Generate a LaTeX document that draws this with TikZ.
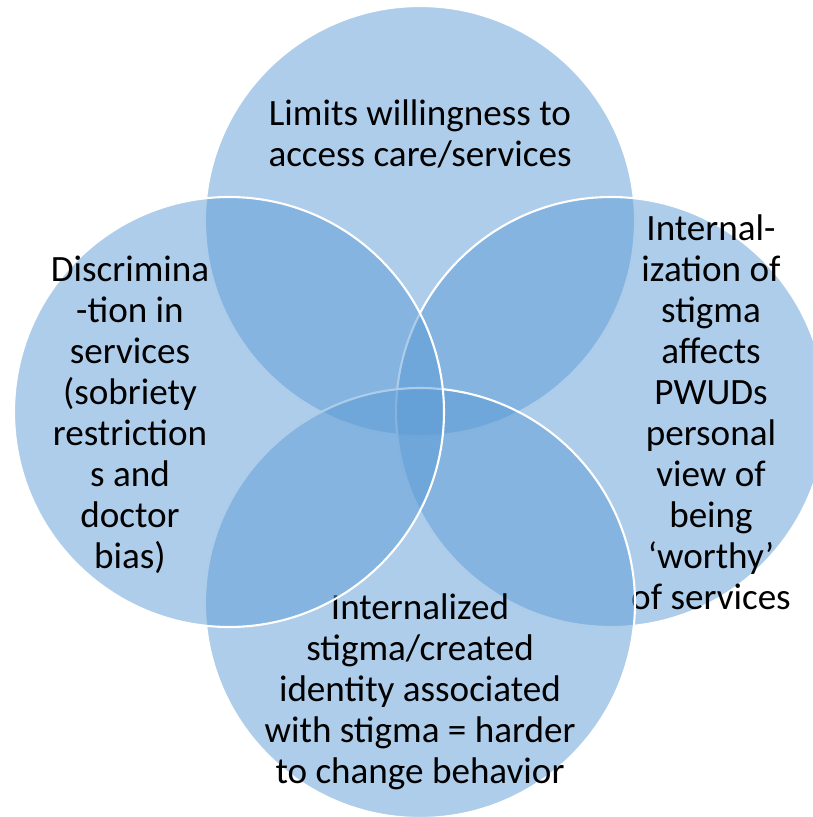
\documentclass[tikz,border=0pt]{standalone}
\usepackage{fontspec}
\setmainfont{Carlito}
\usepackage{tikz}
\usetikzlibrary{positioning}
\definecolor{vennblue}{HTML}{5B9BD5}

\begin{document}
\begin{tikzpicture}[
    font=\fontsize{26.4}{29.2}\selectfont,
    venn/.style={circle, draw=white, line width=1.5pt, fill=vennblue,
        fill opacity=.5, minimum size=10.75cm, inner sep=0pt},
    label/.style={align=center, inner sep=0pt, text=black}
]
\useasboundingbox (-10.5,-10.125) rectangle (9.825,10.3);

% Top circle
\node[venn] (access) at (0,4.775) {};
\node[label] (accesstxt) at (0,6.95) {Limits willingness to\\access care/services};

% Right circle
\node[venn] (worthy) at (4.775,0) {};
\node[label] (worthytxt) at (7.275,0) {Internal-\\ization of\\stigma\\affects\\PWUDs\\personal\\view of\\being\\‘worthy’\\of services};

% Bottom circle
\node[venn] (identity) at (0,-4.775) {};
\node[label] (identitytxt) at (0,-7.0) {Internalized\\stigma/created\\identity associated\\with stigma = harder\\to change behavior};

% Left circle
\node[venn] (discrim) at (-4.775,0) {};
\node[label] (discrimtxt) at (-7.25,-0.075) {Discrimina\\-tion in\\services\\(sobriety\\restriction\\s and\\doctor\\bias)};

\end{tikzpicture}
\end{document}
